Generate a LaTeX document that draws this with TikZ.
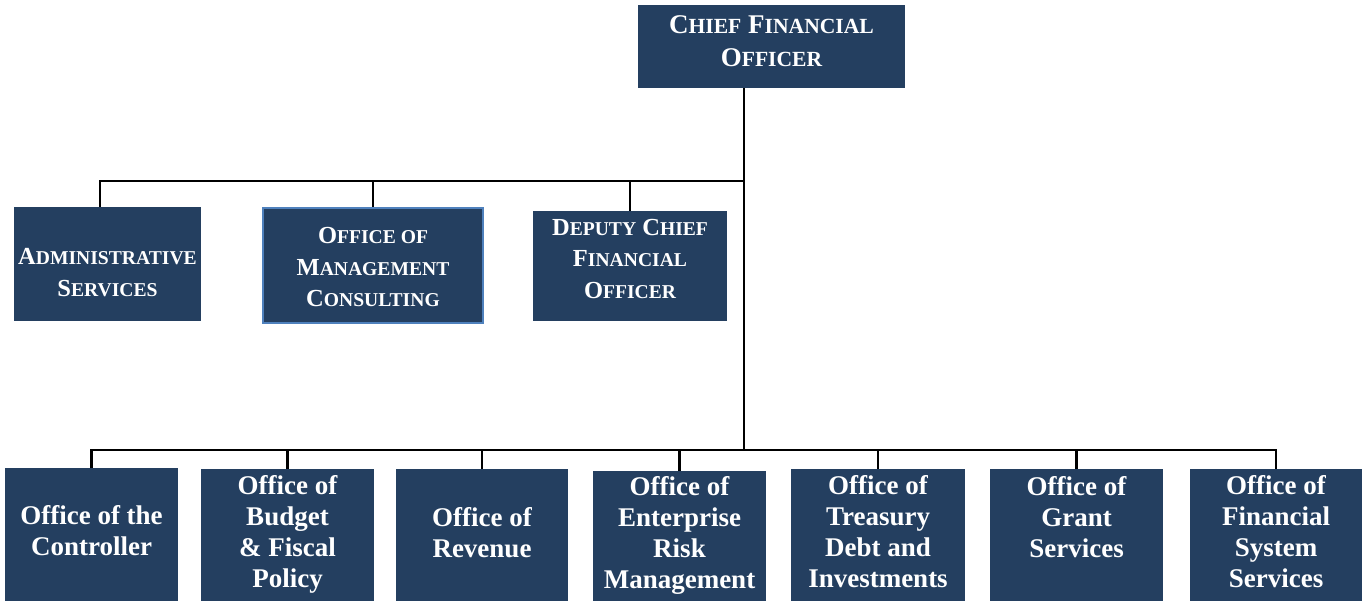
\documentclass[tikz,border=0pt]{standalone}
\usepackage{fontspec}
\setmainfont{Liberation Serif}
\definecolor{boxblue}{HTML}{243F60}
\definecolor{edgeblue}{HTML}{4F81BD}
\def\smcsz{20pt}
\newcommand\smc[1]{{\fontsize{\smcsz}{\smcsz}\selectfont #1}}
\begin{document}
\begin{tikzpicture}[x=1pt,y=-1pt,
  org/.style={fill=boxblue, text=white, align=center, inner sep=0pt, anchor=north},
  topfont/.style={font=\bfseries\fontsize{27pt}{33pt}\selectfont\def\smcsz{21.6pt}},
  midfont/.style={font=\bfseries\fontsize{24.5pt}{31.5pt}\selectfont\def\smcsz{19.6pt}},
  lowfont/.style={font=\bfseries\fontsize{27pt}{31pt}\selectfont},
  conn/.style={line width=2.2pt, black}]
\useasboundingbox (0,0) rectangle (1362,601);

% top
\node[org, topfont, minimum width=267pt, text height=61pt, text depth=22pt] (cfo) at (771.5,5)
  {C\smc{HIEF} F\smc{INANCIAL}\\O\smc{FFICER}};

% middle row
\node[org, midfont, minimum width=187pt, text height=89pt, text depth=25pt] (admin) at (107.5,207)
  {A\smc{DMINISTRATIVE}\\S\smc{ERVICES}};
\node[org, midfont, draw=edgeblue, line width=2pt, minimum width=220pt, text height=99pt, text depth=16pt] (mgmt) at (373,207)
  {O\smc{FFICE OF}\\M\smc{ANAGEMENT}\\C\smc{ONSULTING}};
\node[org, midfont, minimum width=194pt, text height=87pt, text depth=23pt] (deputy) at (630,211)
  {D\smc{EPUTY} C\smc{HIEF}\\F\smc{INANCIAL}\\O\smc{FFICER}};

% bottom row
\node[org, lowfont, minimum width=173pt, text height=87pt, text depth=46pt] (ctrl) at (91.5,468)
  {Office of the\\Controller};
\node[org, lowfont, minimum width=173pt, text height=118pt, text depth=14pt] (budget) at (287.5,469)
  {Office of\\Budget\\\& Fiscal\\Policy};
\node[org, lowfont, minimum width=172pt, text height=88pt, text depth=44pt] (revenue) at (482,469)
  {Office of\\Revenue};
\node[org, lowfont, minimum width=173pt, text height=117pt, text depth=13pt] (erm) at (679.5,471)
  {Office of\\Enterprise\\Risk\\Management};
\node[org, lowfont, minimum width=174pt, text height=118pt, text depth=14pt] (treasury) at (878,469)
  {Office of\\Treasury\\Debt and\\Investments};
\node[org, lowfont, minimum width=173pt, text height=88pt, text depth=44pt] (grant) at (1076.5,469)
  {Office of\\Grant\\Services};
\node[org, lowfont, minimum width=172pt, text height=118pt, text depth=14pt] (finsys) at (1276,469)
  {Office of\\Financial\\System\\Services};

% connectors
\coordinate (tb) at (744,181);
\coordinate (bb) at (744,450);
\draw[conn] (cfo.south -| tb) -- (bb);
\draw[conn] ([xshift=-7.5pt]admin.north) |- (tb);
\draw[conn] (mgmt.north) -- (mgmt.north |- tb);
\draw[conn] (deputy.north) -- (deputy.north |- tb);
\draw[conn] (ctrl.north) |- (bb);
\draw[conn] (finsys.north) |- (bb);
\draw[conn] (budget.north) -- (budget.north |- bb);
\draw[conn] (revenue.north) -- (revenue.north |- bb);
\draw[conn] (erm.north) -- (erm.north |- bb);
\draw[conn] (treasury.north) -- (treasury.north |- bb);
\draw[conn] (grant.north) -- (grant.north |- bb);
\end{tikzpicture}
\end{document}
